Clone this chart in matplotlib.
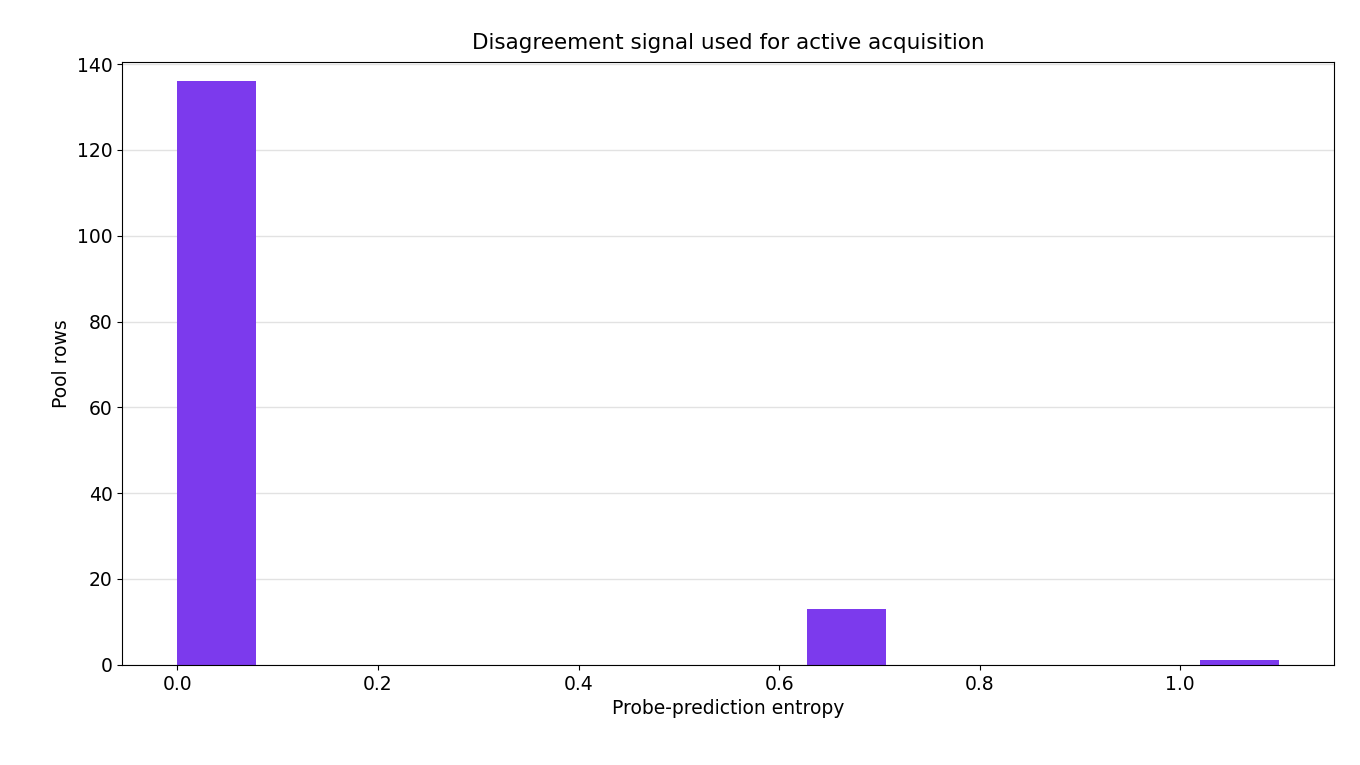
import numpy as np
import matplotlib
matplotlib.use("Agg")
from matplotlib import pyplot as plt

# histogram counts (14 bins over 0 .. ln 3)
entropy_max = 1.0986
bin_counts = [136, 0, 0, 0, 0, 0, 0, 0, 13, 0, 0, 0, 0, 1]

edges = np.linspace(0, entropy_max, len(bin_counts) + 1)
centers = (edges[:-1] + edges[1:]) / 2

fig, ax = plt.subplots(figsize=(13.6, 7.65), dpi=100)
ax.hist(centers, bins=edges, weights=bin_counts, color='#7c3aed')
ax.set_title("Disagreement signal used for active acquisition", fontsize=15.5, pad=9)
ax.set_xlabel("Probe-prediction entropy", fontsize=13.5)
ax.set_ylabel("Pool rows", fontsize=13.5)
ax.tick_params(labelsize=13.5)
ax.set_ylim(0, 140.5)
ax.set_yticks(np.arange(0, 141, 20))
ax.grid(axis='y', color='#e2e2e2', linewidth=1)
ax.set_axisbelow(True)
fig.subplots_adjust(left=0.09, right=0.981, top=0.919, bottom=0.131)
fig.savefig("out.png")
